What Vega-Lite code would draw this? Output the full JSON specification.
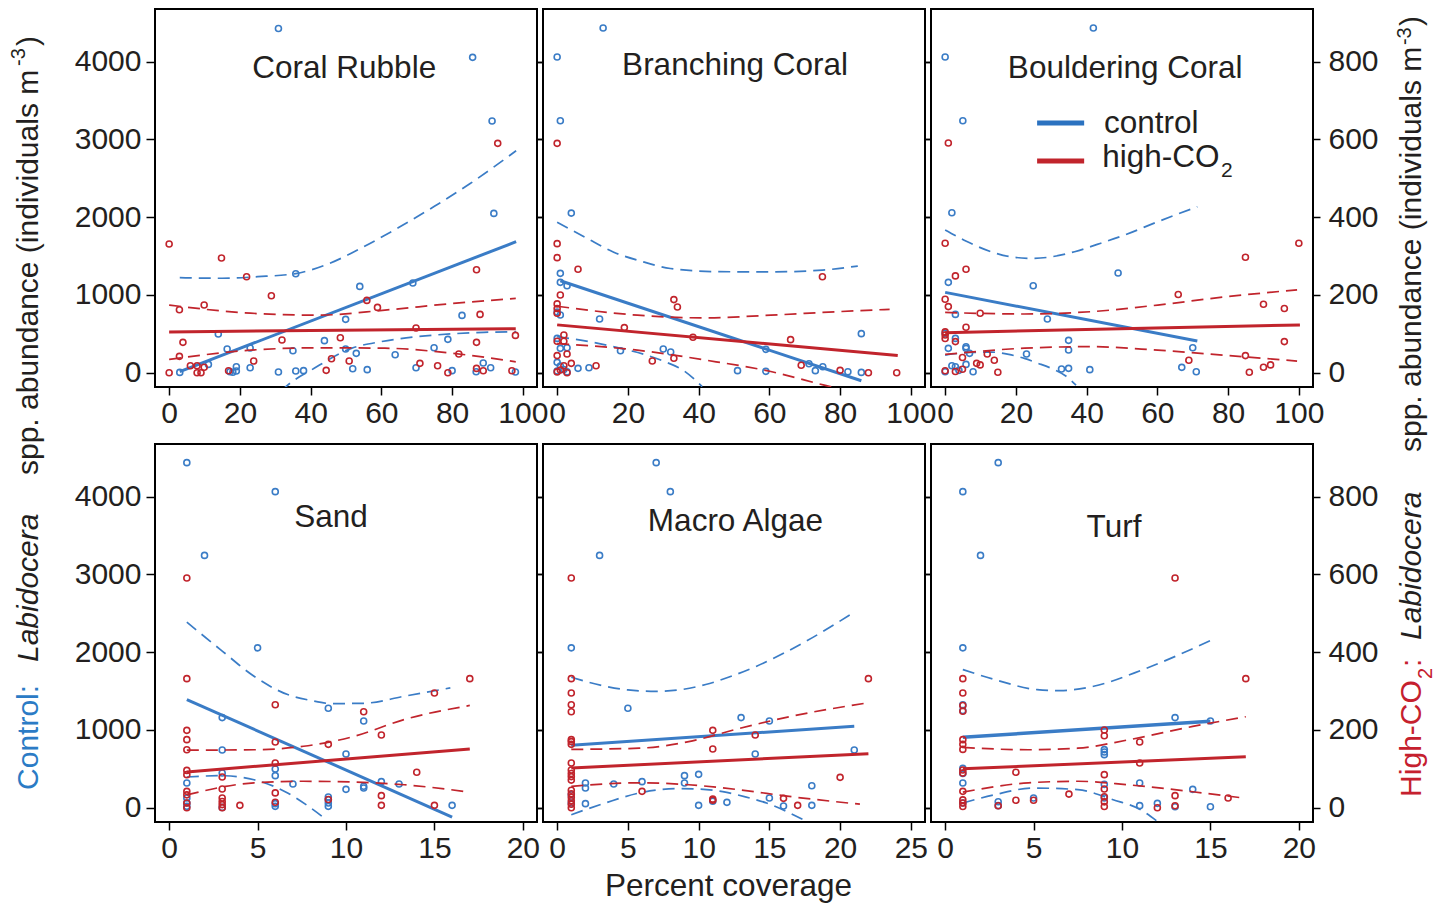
{
"$schema":"https://vega.github.io/schema/vega-lite/v6.json",
"padding":{"left":8,"top":8,"right":4,"bottom":2},
"background":"#ffffff",
"data":{"name":"d"},
"datasets":{"d":[
{"p":"CR","g":"c","k":"pt","x":30.9,"y":4428},{"p":"CR","g":"c","k":"pt","x":85.8,"y":4056},{"p":"CR","g":"c","k":"pt","x":91.3,"y":3237},{"p":"CR","g":"c","k":"pt","x":91.8,"y":2049},{"p":"CR","g":"c","k":"pt","x":35.8,"y":1273},{"p":"CR","g":"c","k":"pt","x":53.9,"y":1110},{"p":"CR","g":"c","k":"pt","x":68.9,"y":1153},{"p":"CR","g":"c","k":"pt","x":49.9,"y":686},{"p":"CR","g":"c","k":"pt","x":82.8,"y":737},{"p":"CR","g":"c","k":"pt","x":13.9,"y":497},{"p":"CR","g":"c","k":"pt","x":16.4,"y":304},{"p":"CR","g":"c","k":"pt","x":22.9,"y":317},{"p":"CR","g":"c","k":"pt","x":35,"y":283},{"p":"CR","g":"c","k":"pt","x":43.9,"y":412},{"p":"CR","g":"c","k":"pt","x":49.9,"y":304},{"p":"CR","g":"c","k":"pt","x":52.9,"y":249},{"p":"CR","g":"c","k":"pt","x":63.9,"y":231},{"p":"CR","g":"c","k":"pt","x":74.9,"y":321},{"p":"CR","g":"c","k":"pt","x":78.8,"y":429},{"p":"CR","g":"c","k":"pt","x":88.8,"y":124},{"p":"CR","g":"c","k":"pt","x":3,"y":4},{"p":"CR","g":"c","k":"pt","x":11.1,"y":107},{"p":"CR","g":"c","k":"pt","x":17.2,"y":13},{"p":"CR","g":"c","k":"pt","x":19,"y":77},{"p":"CR","g":"c","k":"pt","x":19,"y":21},{"p":"CR","g":"c","k":"pt","x":18,"y":5},{"p":"CR","g":"c","k":"pt","x":22.9,"y":64},{"p":"CR","g":"c","k":"pt","x":30.9,"y":9},{"p":"CR","g":"c","k":"pt","x":35.8,"y":21},{"p":"CR","g":"c","k":"pt","x":38,"y":26},{"p":"CR","g":"c","k":"pt","x":51.9,"y":51},{"p":"CR","g":"c","k":"pt","x":56,"y":39},{"p":"CR","g":"c","k":"pt","x":69.8,"y":64},{"p":"CR","g":"c","k":"pt","x":80,"y":26},{"p":"CR","g":"c","k":"pt","x":86.8,"y":13},{"p":"CR","g":"c","k":"pt","x":90.9,"y":64},{"p":"CR","g":"c","k":"pt","x":97.9,"y":9},
{"p":"CR","g":"h","k":"pt","x":0,"y":331},{"p":"CR","g":"h","k":"pt","x":14.8,"y":295},{"p":"CR","g":"h","k":"pt","x":21.9,"y":247},{"p":"CR","g":"h","k":"pt","x":28.9,"y":198},{"p":"CR","g":"h","k":"pt","x":2.9,"y":162},{"p":"CR","g":"h","k":"pt","x":9.9,"y":174},{"p":"CR","g":"h","k":"pt","x":86.9,"y":265},{"p":"CR","g":"h","k":"pt","x":92.9,"y":590},{"p":"CR","g":"h","k":"pt","x":55.9,"y":186},{"p":"CR","g":"h","k":"pt","x":58.9,"y":168},{"p":"CR","g":"h","k":"pt","x":87.9,"y":150},{"p":"CR","g":"h","k":"pt","x":69.8,"y":115},{"p":"CR","g":"h","k":"pt","x":97.9,"y":96},{"p":"CR","g":"h","k":"pt","x":3.9,"y":78},{"p":"CR","g":"h","k":"pt","x":31.9,"y":84},{"p":"CR","g":"h","k":"pt","x":48.4,"y":90},{"p":"CR","g":"h","k":"pt","x":86.9,"y":78},{"p":"CR","g":"h","k":"pt","x":2.9,"y":42},{"p":"CR","g":"h","k":"pt","x":81.9,"y":48},{"p":"CR","g":"h","k":"pt","x":45.9,"y":36},{"p":"CR","g":"h","k":"pt","x":50.9,"y":30},{"p":"CR","g":"h","k":"pt","x":23.9,"y":30},{"p":"CR","g":"h","k":"pt","x":6,"y":18},{"p":"CR","g":"h","k":"pt","x":7.9,"y":18},{"p":"CR","g":"h","k":"pt","x":9.9,"y":14},{"p":"CR","g":"h","k":"pt","x":7.9,"y":0},{"p":"CR","g":"h","k":"pt","x":9,"y":0},{"p":"CR","g":"h","k":"pt","x":0,"y":0},{"p":"CR","g":"h","k":"pt","x":16.8,"y":5},{"p":"CR","g":"h","k":"pt","x":44.4,"y":6},{"p":"CR","g":"h","k":"pt","x":70.9,"y":24},{"p":"CR","g":"h","k":"pt","x":75.9,"y":18},{"p":"CR","g":"h","k":"pt","x":78.8,"y":0},{"p":"CR","g":"h","k":"pt","x":86.9,"y":11},{"p":"CR","g":"h","k":"pt","x":88.8,"y":5},{"p":"CR","g":"h","k":"pt","x":96.9,"y":5},
{"p":"CR","g":"c","k":"fit","x":3,"y":13},{"p":"CR","g":"c","k":"fit","x":98.1,"y":1685},
{"p":"CR","g":"c","k":"up","x":3,"y":1222},{"p":"CR","g":"c","k":"up","x":15,"y":1215},{"p":"CR","g":"c","k":"up","x":25,"y":1235},{"p":"CR","g":"c","k":"up","x":35.8,"y":1275},{"p":"CR","g":"c","k":"up","x":45,"y":1400},{"p":"CR","g":"c","k":"up","x":55,"y":1620},{"p":"CR","g":"c","k":"up","x":65,"y":1870},{"p":"CR","g":"c","k":"up","x":75,"y":2140},{"p":"CR","g":"c","k":"up","x":85,"y":2430},{"p":"CR","g":"c","k":"up","x":98.1,"y":2855},
{"p":"CR","g":"c","k":"lo","x":28,"y":-420},{"p":"CR","g":"c","k":"lo","x":33,"y":-180},{"p":"CR","g":"c","k":"lo","x":41,"y":56},{"p":"CR","g":"c","k":"lo","x":51.5,"y":313},{"p":"CR","g":"c","k":"lo","x":60,"y":400},{"p":"CR","g":"c","k":"lo","x":70,"y":463},{"p":"CR","g":"c","k":"lo","x":80,"y":500},{"p":"CR","g":"c","k":"lo","x":89,"y":519},{"p":"CR","g":"c","k":"lo","x":98.1,"y":527},
{"p":"CR","g":"h","k":"fit","x":0,"y":105},{"p":"CR","g":"h","k":"fit","x":98,"y":113},
{"p":"CR","g":"h","k":"up","x":0,"y":174},{"p":"CR","g":"h","k":"up","x":23,"y":153},{"p":"CR","g":"h","k":"up","x":42,"y":148},{"p":"CR","g":"h","k":"up","x":61,"y":161},{"p":"CR","g":"h","k":"up","x":80,"y":178},{"p":"CR","g":"h","k":"up","x":98,"y":191},
{"p":"CR","g":"h","k":"lo","x":0,"y":34},{"p":"CR","g":"h","k":"lo","x":23,"y":58},{"p":"CR","g":"h","k":"lo","x":42,"y":64},{"p":"CR","g":"h","k":"lo","x":61,"y":63},{"p":"CR","g":"h","k":"lo","x":80,"y":50},{"p":"CR","g":"h","k":"lo","x":98,"y":28},
{"p":"BC","g":"c","k":"pt","x":13,"y":4433},{"p":"BC","g":"c","k":"pt","x":0,"y":4060},{"p":"BC","g":"c","k":"pt","x":0.9,"y":3241},{"p":"BC","g":"c","k":"pt","x":4,"y":2053},{"p":"BC","g":"c","k":"pt","x":0.9,"y":1278},{"p":"BC","g":"c","k":"pt","x":0.9,"y":1162},{"p":"BC","g":"c","k":"pt","x":2.8,"y":1119},{"p":"BC","g":"c","k":"pt","x":0.9,"y":742},{"p":"BC","g":"c","k":"pt","x":0,"y":780},{"p":"BC","g":"c","k":"pt","x":12,"y":690},{"p":"BC","g":"c","k":"pt","x":17.9,"y":283},{"p":"BC","g":"c","k":"pt","x":30,"y":304},{"p":"BC","g":"c","k":"pt","x":32.1,"y":266},{"p":"BC","g":"c","k":"pt","x":59,"y":300},{"p":"BC","g":"c","k":"pt","x":86,"y":502},{"p":"BC","g":"c","k":"pt","x":71.2,"y":116},{"p":"BC","g":"c","k":"pt","x":75.1,"y":77},{"p":"BC","g":"c","k":"pt","x":73,"y":26},{"p":"BC","g":"c","k":"pt","x":51,"y":26},{"p":"BC","g":"c","k":"pt","x":59,"y":17},{"p":"BC","g":"c","k":"pt","x":82.2,"y":13},{"p":"BC","g":"c","k":"pt","x":86,"y":4},{"p":"BC","g":"c","k":"pt","x":5.9,"y":56},{"p":"BC","g":"c","k":"pt","x":9,"y":64},{"p":"BC","g":"c","k":"pt","x":0,"y":441},{"p":"BC","g":"c","k":"pt","x":0.9,"y":313},{"p":"BC","g":"c","k":"pt","x":2.8,"y":321},{"p":"BC","g":"c","k":"pt","x":0,"y":133},{"p":"BC","g":"c","k":"pt","x":0.9,"y":86},{"p":"BC","g":"c","k":"pt","x":0,"y":21},{"p":"BC","g":"c","k":"pt","x":1.9,"y":40},{"p":"BC","g":"c","k":"pt","x":2.8,"y":10},
{"p":"BC","g":"h","k":"pt","x":0,"y":590},{"p":"BC","g":"h","k":"pt","x":0,"y":332},{"p":"BC","g":"h","k":"pt","x":0,"y":296},{"p":"BC","g":"h","k":"pt","x":5.9,"y":266},{"p":"BC","g":"h","k":"pt","x":75,"y":247},{"p":"BC","g":"h","k":"pt","x":0.9,"y":200},{"p":"BC","g":"h","k":"pt","x":0,"y":177},{"p":"BC","g":"h","k":"pt","x":0,"y":165},{"p":"BC","g":"h","k":"pt","x":0,"y":153},{"p":"BC","g":"h","k":"pt","x":33,"y":188},{"p":"BC","g":"h","k":"pt","x":34,"y":169},{"p":"BC","g":"h","k":"pt","x":19,"y":116},{"p":"BC","g":"h","k":"pt","x":38.4,"y":91},{"p":"BC","g":"h","k":"pt","x":66,"y":85},{"p":"BC","g":"h","k":"pt","x":1.9,"y":97},{"p":"BC","g":"h","k":"pt","x":0,"y":81},{"p":"BC","g":"h","k":"pt","x":1.9,"y":81},{"p":"BC","g":"h","k":"pt","x":2.8,"y":48},{"p":"BC","g":"h","k":"pt","x":0,"y":44},{"p":"BC","g":"h","k":"pt","x":26.9,"y":30},{"p":"BC","g":"h","k":"pt","x":33,"y":37},{"p":"BC","g":"h","k":"pt","x":11,"y":18},{"p":"BC","g":"h","k":"pt","x":4,"y":24},{"p":"BC","g":"h","k":"pt","x":69,"y":19},{"p":"BC","g":"h","k":"pt","x":80,"y":6},{"p":"BC","g":"h","k":"pt","x":88,"y":0},{"p":"BC","g":"h","k":"pt","x":96,"y":0},{"p":"BC","g":"h","k":"pt","x":0,"y":2},{"p":"BC","g":"h","k":"pt","x":0.9,"y":7},{"p":"BC","g":"h","k":"pt","x":2.8,"y":0},{"p":"BC","g":"h","k":"pt","x":1.9,"y":18},
{"p":"BC","g":"c","k":"fit","x":0.9,"y":1183},{"p":"BC","g":"c","k":"fit","x":86,"y":-103},
{"p":"BC","g":"c","k":"up","x":0,"y":1934},{"p":"BC","g":"c","k":"up","x":8,"y":1740},{"p":"BC","g":"c","k":"up","x":16,"y":1550},{"p":"BC","g":"c","k":"up","x":24,"y":1430},{"p":"BC","g":"c","k":"up","x":32,"y":1340},{"p":"BC","g":"c","k":"up","x":45,"y":1300},{"p":"BC","g":"c","k":"up","x":60,"y":1296},{"p":"BC","g":"c","k":"up","x":75,"y":1320},{"p":"BC","g":"c","k":"up","x":85,"y":1372},
{"p":"BC","g":"c","k":"lo","x":0,"y":463},{"p":"BC","g":"c","k":"lo","x":9,"y":400},{"p":"BC","g":"c","k":"lo","x":18,"y":313},{"p":"BC","g":"c","k":"lo","x":25,"y":230},{"p":"BC","g":"c","k":"lo","x":30,"y":150},{"p":"BC","g":"c","k":"lo","x":36,"y":20},{"p":"BC","g":"c","k":"lo","x":41,"y":-180},
{"p":"BC","g":"h","k":"fit","x":0,"y":123},{"p":"BC","g":"h","k":"fit","x":96.3,"y":44},
{"p":"BC","g":"h","k":"up","x":0,"y":171},{"p":"BC","g":"h","k":"up","x":22.7,"y":148},{"p":"BC","g":"h","k":"up","x":41.5,"y":141},{"p":"BC","g":"h","k":"up","x":60.4,"y":148},{"p":"BC","g":"h","k":"up","x":79.3,"y":157},{"p":"BC","g":"h","k":"up","x":94,"y":163},
{"p":"BC","g":"h","k":"lo","x":0,"y":75},{"p":"BC","g":"h","k":"lo","x":22.7,"y":58},{"p":"BC","g":"h","k":"lo","x":41.5,"y":33},{"p":"BC","g":"h","k":"lo","x":60.4,"y":3},{"p":"BC","g":"h","k":"lo","x":75.5,"y":-32},{"p":"BC","g":"h","k":"lo","x":80,"y":-42},
{"p":"BO","g":"c","k":"pt","x":41.9,"y":4433},{"p":"BO","g":"c","k":"pt","x":0,"y":4060},{"p":"BO","g":"c","k":"pt","x":5,"y":3241},{"p":"BO","g":"c","k":"pt","x":1.9,"y":2058},{"p":"BO","g":"c","k":"pt","x":48.9,"y":1282},{"p":"BO","g":"c","k":"pt","x":24.9,"y":1119},{"p":"BO","g":"c","k":"pt","x":0.9,"y":1162},{"p":"BO","g":"c","k":"pt","x":2.9,"y":750},{"p":"BO","g":"c","k":"pt","x":28.9,"y":690},{"p":"BO","g":"c","k":"pt","x":34.9,"y":416},{"p":"BO","g":"c","k":"pt","x":34.9,"y":292},{"p":"BO","g":"c","k":"pt","x":23,"y":240},{"p":"BO","g":"c","k":"pt","x":70,"y":321},{"p":"BO","g":"c","k":"pt","x":66.9,"y":69},{"p":"BO","g":"c","k":"pt","x":71,"y":13},{"p":"BO","g":"c","k":"pt","x":40.9,"y":39},{"p":"BO","g":"c","k":"pt","x":32.9,"y":47},{"p":"BO","g":"c","k":"pt","x":34.9,"y":56},{"p":"BO","g":"c","k":"pt","x":0,"y":506},{"p":"BO","g":"c","k":"pt","x":2.9,"y":441},{"p":"BO","g":"c","k":"pt","x":0.9,"y":313},{"p":"BO","g":"c","k":"pt","x":5.9,"y":334},{"p":"BO","g":"c","k":"pt","x":5.9,"y":313},{"p":"BO","g":"c","k":"pt","x":6.9,"y":249},{"p":"BO","g":"c","k":"pt","x":1.9,"y":90},{"p":"BO","g":"c","k":"pt","x":2.9,"y":77},{"p":"BO","g":"c","k":"pt","x":7.9,"y":13},{"p":"BO","g":"c","k":"pt","x":5.9,"y":107},{"p":"BO","g":"c","k":"pt","x":0,"y":13},{"p":"BO","g":"c","k":"pt","x":3.9,"y":30},
{"p":"BO","g":"h","k":"pt","x":0.9,"y":591},{"p":"BO","g":"h","k":"pt","x":0,"y":333},{"p":"BO","g":"h","k":"pt","x":84.9,"y":297},{"p":"BO","g":"h","k":"pt","x":100,"y":333},{"p":"BO","g":"h","k":"pt","x":5.9,"y":266},{"p":"BO","g":"h","k":"pt","x":2.9,"y":249},{"p":"BO","g":"h","k":"pt","x":0,"y":189},{"p":"BO","g":"h","k":"pt","x":0.9,"y":170},{"p":"BO","g":"h","k":"pt","x":65.9,"y":201},{"p":"BO","g":"h","k":"pt","x":90,"y":176},{"p":"BO","g":"h","k":"pt","x":95.9,"y":165},{"p":"BO","g":"h","k":"pt","x":9.9,"y":153},{"p":"BO","g":"h","k":"pt","x":5.9,"y":117},{"p":"BO","g":"h","k":"pt","x":0,"y":97},{"p":"BO","g":"h","k":"pt","x":0,"y":88},{"p":"BO","g":"h","k":"pt","x":2.9,"y":80},{"p":"BO","g":"h","k":"pt","x":95.9,"y":80},{"p":"BO","g":"h","k":"pt","x":11.9,"y":48},{"p":"BO","g":"h","k":"pt","x":84.9,"y":44},{"p":"BO","g":"h","k":"pt","x":13.9,"y":32},{"p":"BO","g":"h","k":"pt","x":4.9,"y":39},{"p":"BO","g":"h","k":"pt","x":68.9,"y":32},{"p":"BO","g":"h","k":"pt","x":8.9,"y":24},{"p":"BO","g":"h","k":"pt","x":9.9,"y":20},{"p":"BO","g":"h","k":"pt","x":90,"y":14},{"p":"BO","g":"h","k":"pt","x":92,"y":20},{"p":"BO","g":"h","k":"pt","x":14.9,"y":1},{"p":"BO","g":"h","k":"pt","x":86,"y":1},{"p":"BO","g":"h","k":"pt","x":0,"y":5},{"p":"BO","g":"h","k":"pt","x":2.9,"y":3},{"p":"BO","g":"h","k":"pt","x":4.9,"y":9},{"p":"BO","g":"h","k":"pt","x":0,"y":105},
{"p":"BO","g":"c","k":"fit","x":0,"y":1033},{"p":"BO","g":"c","k":"fit","x":71.3,"y":407},
{"p":"BO","g":"c","k":"up","x":0,"y":1835},{"p":"BO","g":"c","k":"up","x":6,"y":1690},{"p":"BO","g":"c","k":"up","x":13,"y":1556},{"p":"BO","g":"c","k":"up","x":18,"y":1495},{"p":"BO","g":"c","k":"up","x":24.3,"y":1470},{"p":"BO","g":"c","k":"up","x":30,"y":1490},{"p":"BO","g":"c","k":"up","x":36.6,"y":1556},{"p":"BO","g":"c","k":"up","x":43,"y":1650},{"p":"BO","g":"c","k":"up","x":50.7,"y":1770},{"p":"BO","g":"c","k":"up","x":60,"y":1940},{"p":"BO","g":"c","k":"up","x":71.3,"y":2135},
{"p":"BO","g":"c","k":"lo","x":0,"y":227},{"p":"BO","g":"c","k":"lo","x":7,"y":260},{"p":"BO","g":"c","k":"lo","x":13,"y":265},{"p":"BO","g":"c","k":"lo","x":18,"y":235},{"p":"BO","g":"c","k":"lo","x":22.4,"y":184},{"p":"BO","g":"c","k":"lo","x":26,"y":125},{"p":"BO","g":"c","k":"lo","x":30,"y":56},{"p":"BO","g":"c","k":"lo","x":34,"y":-40},{"p":"BO","g":"c","k":"lo","x":37,"y":-159},
{"p":"BO","g":"h","k":"fit","x":0,"y":103},{"p":"BO","g":"h","k":"fit","x":100.3,"y":123},
{"p":"BO","g":"h","k":"up","x":0,"y":155},{"p":"BO","g":"h","k":"up","x":22.4,"y":151},{"p":"BO","g":"h","k":"up","x":41.3,"y":157},{"p":"BO","g":"h","k":"up","x":60.1,"y":174},{"p":"BO","g":"h","k":"up","x":79,"y":195},{"p":"BO","g":"h","k":"up","x":99.5,"y":213},
{"p":"BO","g":"h","k":"lo","x":0,"y":47},{"p":"BO","g":"h","k":"lo","x":22.4,"y":63},{"p":"BO","g":"h","k":"lo","x":41.3,"y":67},{"p":"BO","g":"h","k":"lo","x":60.1,"y":58},{"p":"BO","g":"h","k":"lo","x":79,"y":45},{"p":"BO","g":"h","k":"lo","x":99.5,"y":30},
{"p":"SA","g":"c","k":"pt","x":1,"y":4438},{"p":"SA","g":"c","k":"pt","x":6,"y":4065},{"p":"SA","g":"c","k":"pt","x":2,"y":3245},{"p":"SA","g":"c","k":"pt","x":5,"y":2056},{"p":"SA","g":"c","k":"pt","x":9,"y":1279},{"p":"SA","g":"c","k":"pt","x":11,"y":1116},{"p":"SA","g":"c","k":"pt","x":3,"y":1159},{"p":"SA","g":"c","k":"pt","x":3,"y":743},{"p":"SA","g":"c","k":"pt","x":10,"y":691},{"p":"SA","g":"c","k":"pt","x":6,"y":498},{"p":"SA","g":"c","k":"pt","x":6,"y":412},{"p":"SA","g":"c","k":"pt","x":1,"y":318},{"p":"SA","g":"c","k":"pt","x":7,"y":305},{"p":"SA","g":"c","k":"pt","x":11,"y":275},{"p":"SA","g":"c","k":"pt","x":11,"y":253},{"p":"SA","g":"c","k":"pt","x":10,"y":236},{"p":"SA","g":"c","k":"pt","x":12,"y":335},{"p":"SA","g":"c","k":"pt","x":13,"y":305},{"p":"SA","g":"c","k":"pt","x":16,"y":30},{"p":"SA","g":"c","k":"pt","x":9,"y":137},{"p":"SA","g":"c","k":"pt","x":9,"y":103},{"p":"SA","g":"c","k":"pt","x":9,"y":60},{"p":"SA","g":"c","k":"pt","x":9,"y":17},{"p":"SA","g":"c","k":"pt","x":6,"y":52},{"p":"SA","g":"c","k":"pt","x":6,"y":17},{"p":"SA","g":"c","k":"pt","x":3,"y":4},{"p":"SA","g":"c","k":"pt","x":3,"y":446},{"p":"SA","g":"c","k":"pt","x":1,"y":124},{"p":"SA","g":"c","k":"pt","x":1,"y":60},{"p":"SA","g":"c","k":"pt","x":1,"y":17},
{"p":"SA","g":"h","k":"pt","x":1,"y":591},{"p":"SA","g":"h","k":"pt","x":1,"y":332},{"p":"SA","g":"h","k":"pt","x":17,"y":332},{"p":"SA","g":"h","k":"pt","x":15,"y":295},{"p":"SA","g":"h","k":"pt","x":6,"y":265},{"p":"SA","g":"h","k":"pt","x":11,"y":247},{"p":"SA","g":"h","k":"pt","x":1,"y":199},{"p":"SA","g":"h","k":"pt","x":1,"y":175},{"p":"SA","g":"h","k":"pt","x":1,"y":149},{"p":"SA","g":"h","k":"pt","x":12,"y":187},{"p":"SA","g":"h","k":"pt","x":6,"y":169},{"p":"SA","g":"h","k":"pt","x":9,"y":163},{"p":"SA","g":"h","k":"pt","x":6,"y":115},{"p":"SA","g":"h","k":"pt","x":1,"y":96},{"p":"SA","g":"h","k":"pt","x":1,"y":85},{"p":"SA","g":"h","k":"pt","x":14,"y":91},{"p":"SA","g":"h","k":"pt","x":3,"y":79},{"p":"SA","g":"h","k":"pt","x":3,"y":48},{"p":"SA","g":"h","k":"pt","x":6,"y":38},{"p":"SA","g":"h","k":"pt","x":1,"y":42},{"p":"SA","g":"h","k":"pt","x":1,"y":33},{"p":"SA","g":"h","k":"pt","x":12,"y":31},{"p":"SA","g":"h","k":"pt","x":12,"y":6},{"p":"SA","g":"h","k":"pt","x":3,"y":25},{"p":"SA","g":"h","k":"pt","x":3,"y":16},{"p":"SA","g":"h","k":"pt","x":3,"y":8},{"p":"SA","g":"h","k":"pt","x":3,"y":0},{"p":"SA","g":"h","k":"pt","x":4,"y":6},{"p":"SA","g":"h","k":"pt","x":9,"y":21},{"p":"SA","g":"h","k":"pt","x":15,"y":6},{"p":"SA","g":"h","k":"pt","x":1,"y":12},{"p":"SA","g":"h","k":"pt","x":1,"y":0},{"p":"SA","g":"h","k":"pt","x":6,"y":14},
{"p":"SA","g":"c","k":"fit","x":1,"y":1391},{"p":"SA","g":"c","k":"fit","x":16,"y":-120},
{"p":"SA","g":"c","k":"up","x":1,"y":2386},{"p":"SA","g":"c","k":"up","x":2.9,"y":2034},{"p":"SA","g":"c","k":"up","x":4.8,"y":1691},{"p":"SA","g":"c","k":"up","x":6.7,"y":1455},{"p":"SA","g":"c","k":"up","x":8,"y":1380},{"p":"SA","g":"c","k":"up","x":9.2,"y":1339},{"p":"SA","g":"c","k":"up","x":11,"y":1343},{"p":"SA","g":"c","k":"up","x":13.3,"y":1434},{"p":"SA","g":"c","k":"up","x":15.9,"y":1541},
{"p":"SA","g":"c","k":"lo","x":1,"y":395},{"p":"SA","g":"c","k":"lo","x":2.9,"y":412},{"p":"SA","g":"c","k":"lo","x":4.8,"y":360},{"p":"SA","g":"c","k":"lo","x":6.7,"y":189},{"p":"SA","g":"c","k":"lo","x":7.8,"y":30},{"p":"SA","g":"c","k":"lo","x":8.9,"y":-155},
{"p":"SA","g":"h","k":"fit","x":1,"y":92},{"p":"SA","g":"h","k":"fit","x":17,"y":151},
{"p":"SA","g":"h","k":"up","x":1,"y":148},{"p":"SA","g":"h","k":"up","x":4.8,"y":149},{"p":"SA","g":"h","k":"up","x":7.6,"y":158},{"p":"SA","g":"h","k":"up","x":10.5,"y":184},{"p":"SA","g":"h","k":"up","x":13.3,"y":227},{"p":"SA","g":"h","k":"up","x":17,"y":263},
{"p":"SA","g":"h","k":"lo","x":1,"y":33},{"p":"SA","g":"h","k":"lo","x":4.8,"y":64},{"p":"SA","g":"h","k":"lo","x":7.6,"y":68},{"p":"SA","g":"h","k":"lo","x":10.5,"y":66},{"p":"SA","g":"h","k":"lo","x":13.3,"y":59},{"p":"SA","g":"h","k":"lo","x":17,"y":40},
{"p":"MA","g":"c","k":"pt","x":7,"y":4438},{"p":"MA","g":"c","k":"pt","x":8,"y":4065},{"p":"MA","g":"c","k":"pt","x":3,"y":3245},{"p":"MA","g":"c","k":"pt","x":1,"y":2056},{"p":"MA","g":"c","k":"pt","x":5,"y":1279},{"p":"MA","g":"c","k":"pt","x":13,"y":1159},{"p":"MA","g":"c","k":"pt","x":15,"y":1116},{"p":"MA","g":"c","k":"pt","x":14,"y":691},{"p":"MA","g":"c","k":"pt","x":21,"y":743},{"p":"MA","g":"c","k":"pt","x":9,"y":412},{"p":"MA","g":"c","k":"pt","x":10,"y":429},{"p":"MA","g":"c","k":"pt","x":9,"y":318},{"p":"MA","g":"c","k":"pt","x":2,"y":318},{"p":"MA","g":"c","k":"pt","x":2,"y":253},{"p":"MA","g":"c","k":"pt","x":4,"y":305},{"p":"MA","g":"c","k":"pt","x":6,"y":335},{"p":"MA","g":"c","k":"pt","x":18,"y":283},{"p":"MA","g":"c","k":"pt","x":15,"y":124},{"p":"MA","g":"c","k":"pt","x":2,"y":52},{"p":"MA","g":"c","k":"pt","x":10,"y":30},{"p":"MA","g":"c","k":"pt","x":11,"y":82},{"p":"MA","g":"c","k":"pt","x":12,"y":69},{"p":"MA","g":"c","k":"pt","x":16,"y":21},{"p":"MA","g":"c","k":"pt","x":18,"y":30},{"p":"MA","g":"c","k":"pt","x":1,"y":167},{"p":"MA","g":"c","k":"pt","x":1,"y":60},
{"p":"MA","g":"h","k":"pt","x":1,"y":591},{"p":"MA","g":"h","k":"pt","x":1,"y":332},{"p":"MA","g":"h","k":"pt","x":22,"y":332},{"p":"MA","g":"h","k":"pt","x":1,"y":295},{"p":"MA","g":"h","k":"pt","x":1,"y":265},{"p":"MA","g":"h","k":"pt","x":1,"y":247},{"p":"MA","g":"h","k":"pt","x":11,"y":199},{"p":"MA","g":"h","k":"pt","x":14,"y":187},{"p":"MA","g":"h","k":"pt","x":11,"y":151},{"p":"MA","g":"h","k":"pt","x":1,"y":175},{"p":"MA","g":"h","k":"pt","x":1,"y":170},{"p":"MA","g":"h","k":"pt","x":1,"y":163},{"p":"MA","g":"h","k":"pt","x":1,"y":115},{"p":"MA","g":"h","k":"pt","x":1,"y":97},{"p":"MA","g":"h","k":"pt","x":1,"y":88},{"p":"MA","g":"h","k":"pt","x":1,"y":80},{"p":"MA","g":"h","k":"pt","x":1,"y":71},{"p":"MA","g":"h","k":"pt","x":20,"y":78},{"p":"MA","g":"h","k":"pt","x":6,"y":42},{"p":"MA","g":"h","k":"pt","x":11,"y":19},{"p":"MA","g":"h","k":"pt","x":16,"y":24},{"p":"MA","g":"h","k":"pt","x":17,"y":6},{"p":"MA","g":"h","k":"pt","x":1,"y":45},{"p":"MA","g":"h","k":"pt","x":1,"y":36},{"p":"MA","g":"h","k":"pt","x":1,"y":27},{"p":"MA","g":"h","k":"pt","x":1,"y":18},{"p":"MA","g":"h","k":"pt","x":1,"y":9},{"p":"MA","g":"h","k":"pt","x":1,"y":0},{"p":"MA","g":"h","k":"pt","x":11,"y":22},
{"p":"MA","g":"c","k":"fit","x":1,"y":803},{"p":"MA","g":"c","k":"fit","x":21,"y":1047},
{"p":"MA","g":"c","k":"up","x":1,"y":1678},{"p":"MA","g":"c","k":"up","x":3.4,"y":1562},{"p":"MA","g":"c","k":"up","x":5,"y":1515},{"p":"MA","g":"c","k":"up","x":7,"y":1497},{"p":"MA","g":"c","k":"up","x":8.8,"y":1520},{"p":"MA","g":"c","k":"up","x":10.5,"y":1584},{"p":"MA","g":"c","k":"up","x":12.3,"y":1690},{"p":"MA","g":"c","k":"up","x":14.1,"y":1820},{"p":"MA","g":"c","k":"up","x":17.6,"y":2142},{"p":"MA","g":"c","k":"up","x":21,"y":2515},
{"p":"MA","g":"c","k":"lo","x":1,"y":-90},{"p":"MA","g":"c","k":"lo","x":3.4,"y":60},{"p":"MA","g":"c","k":"lo","x":5.8,"y":189},{"p":"MA","g":"c","k":"lo","x":8.6,"y":245},{"p":"MA","g":"c","k":"lo","x":10,"y":240},{"p":"MA","g":"c","k":"lo","x":11.7,"y":206},{"p":"MA","g":"c","k":"lo","x":13.3,"y":140},{"p":"MA","g":"c","k":"lo","x":14.8,"y":60},{"p":"MA","g":"c","k":"lo","x":17.4,"y":-155},
{"p":"MA","g":"h","k":"fit","x":1,"y":102},{"p":"MA","g":"h","k":"fit","x":22,"y":139},
{"p":"MA","g":"h","k":"up","x":1,"y":150},{"p":"MA","g":"h","k":"up","x":5.8,"y":153},{"p":"MA","g":"h","k":"up","x":9.3,"y":170},{"p":"MA","g":"h","k":"up","x":12.9,"y":204},{"p":"MA","g":"h","k":"up","x":16.4,"y":234},{"p":"MA","g":"h","k":"up","x":22,"y":270},
{"p":"MA","g":"h","k":"lo","x":1,"y":55},{"p":"MA","g":"h","k":"lo","x":5.8,"y":64},{"p":"MA","g":"h","k":"lo","x":9.3,"y":59},{"p":"MA","g":"h","k":"lo","x":12.9,"y":46},{"p":"MA","g":"h","k":"lo","x":16.4,"y":29},{"p":"MA","g":"h","k":"lo","x":21.4,"y":9},
{"p":"TU","g":"c","k":"pt","x":3,"y":4438},{"p":"TU","g":"c","k":"pt","x":1,"y":4065},{"p":"TU","g":"c","k":"pt","x":2,"y":3245},{"p":"TU","g":"c","k":"pt","x":1,"y":2056},{"p":"TU","g":"c","k":"pt","x":1,"y":1322},{"p":"TU","g":"c","k":"pt","x":1,"y":1249},{"p":"TU","g":"c","k":"pt","x":13,"y":1159},{"p":"TU","g":"c","k":"pt","x":15,"y":1116},{"p":"TU","g":"c","k":"pt","x":9,"y":747},{"p":"TU","g":"c","k":"pt","x":9,"y":717},{"p":"TU","g":"c","k":"pt","x":9,"y":682},{"p":"TU","g":"c","k":"pt","x":1,"y":506},{"p":"TU","g":"c","k":"pt","x":1,"y":441},{"p":"TU","g":"c","k":"pt","x":1,"y":318},{"p":"TU","g":"c","k":"pt","x":11,"y":318},{"p":"TU","g":"c","k":"pt","x":14,"y":236},{"p":"TU","g":"c","k":"pt","x":9,"y":300},{"p":"TU","g":"c","k":"pt","x":9,"y":124},{"p":"TU","g":"c","k":"pt","x":5,"y":124},{"p":"TU","g":"c","k":"pt","x":3,"y":77},{"p":"TU","g":"c","k":"pt","x":3,"y":26},{"p":"TU","g":"c","k":"pt","x":11,"y":26},{"p":"TU","g":"c","k":"pt","x":12,"y":56},{"p":"TU","g":"c","k":"pt","x":13,"y":13},{"p":"TU","g":"c","k":"pt","x":15,"y":13},{"p":"TU","g":"c","k":"pt","x":1,"y":60},
{"p":"TU","g":"h","k":"pt","x":13,"y":591},{"p":"TU","g":"h","k":"pt","x":1,"y":332},{"p":"TU","g":"h","k":"pt","x":17,"y":332},{"p":"TU","g":"h","k":"pt","x":1,"y":295},{"p":"TU","g":"h","k":"pt","x":1,"y":263},{"p":"TU","g":"h","k":"pt","x":1,"y":248},{"p":"TU","g":"h","k":"pt","x":9,"y":200},{"p":"TU","g":"h","k":"pt","x":9,"y":185},{"p":"TU","g":"h","k":"pt","x":11,"y":169},{"p":"TU","g":"h","k":"pt","x":1,"y":175},{"p":"TU","g":"h","k":"pt","x":1,"y":163},{"p":"TU","g":"h","k":"pt","x":1,"y":150},{"p":"TU","g":"h","k":"pt","x":11,"y":115},{"p":"TU","g":"h","k":"pt","x":1,"y":97},{"p":"TU","g":"h","k":"pt","x":1,"y":89},{"p":"TU","g":"h","k":"pt","x":4,"y":91},{"p":"TU","g":"h","k":"pt","x":9,"y":85},{"p":"TU","g":"h","k":"pt","x":9,"y":48},{"p":"TU","g":"h","k":"pt","x":1,"y":42},{"p":"TU","g":"h","k":"pt","x":7,"y":35},{"p":"TU","g":"h","k":"pt","x":13,"y":31},{"p":"TU","g":"h","k":"pt","x":16,"y":25},{"p":"TU","g":"h","k":"pt","x":4,"y":19},{"p":"TU","g":"h","k":"pt","x":5,"y":19},{"p":"TU","g":"h","k":"pt","x":3,"y":5},{"p":"TU","g":"h","k":"pt","x":9,"y":28},{"p":"TU","g":"h","k":"pt","x":9,"y":15},{"p":"TU","g":"h","k":"pt","x":9,"y":3},{"p":"TU","g":"h","k":"pt","x":12,"y":0},{"p":"TU","g":"h","k":"pt","x":13,"y":5},{"p":"TU","g":"h","k":"pt","x":1,"y":20},{"p":"TU","g":"h","k":"pt","x":1,"y":12},{"p":"TU","g":"h","k":"pt","x":1,"y":3},
{"p":"TU","g":"c","k":"fit","x":1,"y":906},{"p":"TU","g":"c","k":"fit","x":15,"y":1112},
{"p":"TU","g":"c","k":"up","x":1,"y":1777},{"p":"TU","g":"c","k":"up","x":2.8,"y":1648},{"p":"TU","g":"c","k":"up","x":5.2,"y":1519},{"p":"TU","g":"c","k":"up","x":6.5,"y":1506},{"p":"TU","g":"c","k":"up","x":8.4,"y":1562},{"p":"TU","g":"c","k":"up","x":11.2,"y":1777},{"p":"TU","g":"c","k":"up","x":15,"y":2150},
{"p":"TU","g":"c","k":"lo","x":1,"y":60},{"p":"TU","g":"c","k":"lo","x":2.8,"y":167},{"p":"TU","g":"c","k":"lo","x":5,"y":253},{"p":"TU","g":"c","k":"lo","x":7.5,"y":232},{"p":"TU","g":"c","k":"lo","x":9.5,"y":103},{"p":"TU","g":"c","k":"lo","x":11,"y":-20},{"p":"TU","g":"c","k":"lo","x":12,"y":-176},
{"p":"TU","g":"h","k":"fit","x":1,"y":100},{"p":"TU","g":"h","k":"fit","x":17,"y":131},
{"p":"TU","g":"h","k":"up","x":1,"y":155},{"p":"TU","g":"h","k":"up","x":4.7,"y":149},{"p":"TU","g":"h","k":"up","x":7.5,"y":153},{"p":"TU","g":"h","k":"up","x":10.3,"y":174},{"p":"TU","g":"h","k":"up","x":14,"y":209},{"p":"TU","g":"h","k":"up","x":17,"y":234},
{"p":"TU","g":"h","k":"lo","x":1,"y":40},{"p":"TU","g":"h","k":"lo","x":4.7,"y":64},{"p":"TU","g":"h","k":"lo","x":7.5,"y":68},{"p":"TU","g":"h","k":"lo","x":10.3,"y":59},{"p":"TU","g":"h","k":"lo","x":14,"y":41},{"p":"TU","g":"h","k":"lo","x":17,"y":24}
]},
"columns":3,
"spacing":{"row":57,"column":6},
"bounds":"flush",
"concat":[
{"width":382,"height":378,
 "layer":[
  {"layer":[
    {"transform":[{"filter":"datum.p=='CR'&&datum.g=='c'&&datum.k=='pt'"}],"mark":{"type":"point","shape":"circle","filled":false,"size":36,"strokeWidth":1.6,"color":"#3a7cc6","opacity":1},
     "encoding":{"x":{"field":"x","type":"quantitative","title":null,"scale":{"domain":[-4,104],"nice":false,"zero":false},"axis":{"values":[0,20,40,60,80,100],"title":null,"labelPadding":3}},"y":{"field":"y","type":"quantitative","title":null,"scale":{"domain":[-184,4678],"nice":false,"zero":false},"axis":{"values":[0,1000,2000,3000,4000],"format":"d","title":null,"tickSize":9,"labelPadding":5}}}},
    {"transform":[{"filter":"datum.p=='CR'&&datum.g=='c'&&datum.k=='fit'"}],"mark":{"type":"line","color":"#3a7cc6","strokeWidth":3,"clip":true},
     "encoding":{"x":{"field":"x","type":"quantitative","title":null},"y":{"field":"y","type":"quantitative","title":null}}},
    {"transform":[{"filter":"datum.p=='CR'&&datum.g=='c'&&(datum.k=='up'||datum.k=='lo')"}],"mark":{"type":"line","color":"#3a7cc6","strokeWidth":1.7,"strokeDash":[12,7],"interpolate":"monotone","clip":true},
     "encoding":{"x":{"field":"x","type":"quantitative","title":null},"y":{"field":"y","type":"quantitative","title":null},"detail":{"field":"k"}}},
    {"data":{"values":[{"n":1}]},"mark":{"type":"text","text":"Coral Rubble","fontSize":31.5,"align":"center","baseline":"alphabetic"},"encoding":{"x":{"datum":49.5},"y":{"datum":3790}}}
  ]},
  {"layer":[
    {"transform":[{"filter":"datum.p=='CR'&&datum.g=='h'&&datum.k=='pt'"}],"mark":{"type":"point","shape":"circle","filled":false,"size":36,"strokeWidth":1.6,"color":"#c1242c","opacity":1},
     "encoding":{"x":{"field":"x","type":"quantitative","title":null},"y":{"field":"y","type":"quantitative","title":null,"scale":{"domain":[-36.8,935.6],"nice":false,"zero":false},"axis":{"orient":"right","values":[0,200,400,600,800],"title":null,"tickSize":6,"labels":false}}}},
    {"transform":[{"filter":"datum.p=='CR'&&datum.g=='h'&&datum.k=='fit'"}],"mark":{"type":"line","color":"#c1242c","strokeWidth":3,"clip":true},
     "encoding":{"x":{"field":"x","type":"quantitative","title":null},"y":{"field":"y","type":"quantitative","title":null}}},
    {"transform":[{"filter":"datum.p=='CR'&&datum.g=='h'&&(datum.k=='up'||datum.k=='lo')"}],"mark":{"type":"line","color":"#c1242c","strokeWidth":1.7,"strokeDash":[12,7],"interpolate":"monotone","clip":true},
     "encoding":{"x":{"field":"x","type":"quantitative","title":null},"y":{"field":"y","type":"quantitative","title":null},"detail":{"field":"k"}}}
  ]}
 ],
 "resolve":{"scale":{"y":"independent"},"axis":{"y":"independent"}}
},
{"width":382,"height":378,
 "layer":[
  {"layer":[
    {"transform":[{"filter":"datum.p=='BC'&&datum.g=='c'&&datum.k=='pt'"}],"mark":{"type":"point","shape":"circle","filled":false,"size":36,"strokeWidth":1.6,"color":"#3a7cc6","opacity":1},
     "encoding":{"x":{"field":"x","type":"quantitative","title":null,"scale":{"domain":[-4,104],"nice":false,"zero":false},"axis":{"values":[0,20,40,60,80,100],"title":null,"labelPadding":3}},"y":{"field":"y","type":"quantitative","title":null,"scale":{"domain":[-184,4678],"nice":false,"zero":false},"axis":{"values":[0,1000,2000,3000,4000],"title":null,"tickSize":6,"labels":false}}}},
    {"transform":[{"filter":"datum.p=='BC'&&datum.g=='c'&&datum.k=='fit'"}],"mark":{"type":"line","color":"#3a7cc6","strokeWidth":3,"clip":true},
     "encoding":{"x":{"field":"x","type":"quantitative","title":null},"y":{"field":"y","type":"quantitative","title":null}}},
    {"transform":[{"filter":"datum.p=='BC'&&datum.g=='c'&&(datum.k=='up'||datum.k=='lo')"}],"mark":{"type":"line","color":"#3a7cc6","strokeWidth":1.7,"strokeDash":[12,7],"interpolate":"monotone","clip":true},
     "encoding":{"x":{"field":"x","type":"quantitative","title":null},"y":{"field":"y","type":"quantitative","title":null},"detail":{"field":"k"}}},
    {"data":{"values":[{"n":1}]},"mark":{"type":"text","text":"Branching Coral","fontSize":31.5,"align":"center","baseline":"alphabetic"},"encoding":{"x":{"datum":50.3},"y":{"datum":3829}}}
  ]},
  {"layer":[
    {"transform":[{"filter":"datum.p=='BC'&&datum.g=='h'&&datum.k=='pt'"}],"mark":{"type":"point","shape":"circle","filled":false,"size":36,"strokeWidth":1.6,"color":"#c1242c","opacity":1},
     "encoding":{"x":{"field":"x","type":"quantitative","title":null},"y":{"field":"y","type":"quantitative","title":null,"scale":{"domain":[-36.8,935.6],"nice":false,"zero":false},"axis":{"orient":"right","values":[0,200,400,600,800],"title":null,"tickSize":6,"labels":false}}}},
    {"transform":[{"filter":"datum.p=='BC'&&datum.g=='h'&&datum.k=='fit'"}],"mark":{"type":"line","color":"#c1242c","strokeWidth":3,"clip":true},
     "encoding":{"x":{"field":"x","type":"quantitative","title":null},"y":{"field":"y","type":"quantitative","title":null}}},
    {"transform":[{"filter":"datum.p=='BC'&&datum.g=='h'&&(datum.k=='up'||datum.k=='lo')"}],"mark":{"type":"line","color":"#c1242c","strokeWidth":1.7,"strokeDash":[12,7],"interpolate":"monotone","clip":true},
     "encoding":{"x":{"field":"x","type":"quantitative","title":null},"y":{"field":"y","type":"quantitative","title":null},"detail":{"field":"k"}}}
  ]}
 ],
 "resolve":{"scale":{"y":"independent"},"axis":{"y":"independent"}}
},
{"width":382,"height":378,
 "layer":[
  {"layer":[
    {"transform":[{"filter":"datum.p=='BO'&&datum.g=='c'&&datum.k=='pt'"}],"mark":{"type":"point","shape":"circle","filled":false,"size":36,"strokeWidth":1.6,"color":"#3a7cc6","opacity":1},
     "encoding":{"x":{"field":"x","type":"quantitative","title":null,"scale":{"domain":[-4,104],"nice":false,"zero":false},"axis":{"values":[0,20,40,60,80,100],"title":null,"labelPadding":3}},"y":{"field":"y","type":"quantitative","title":null,"scale":{"domain":[-184,4678],"nice":false,"zero":false},"axis":{"values":[0,1000,2000,3000,4000],"title":null,"tickSize":6,"labels":false}}}},
    {"transform":[{"filter":"datum.p=='BO'&&datum.g=='c'&&datum.k=='fit'"}],"mark":{"type":"line","color":"#3a7cc6","strokeWidth":3,"clip":true},
     "encoding":{"x":{"field":"x","type":"quantitative","title":null},"y":{"field":"y","type":"quantitative","title":null}}},
    {"transform":[{"filter":"datum.p=='BO'&&datum.g=='c'&&(datum.k=='up'||datum.k=='lo')"}],"mark":{"type":"line","color":"#3a7cc6","strokeWidth":1.7,"strokeDash":[12,7],"interpolate":"monotone","clip":true},
     "encoding":{"x":{"field":"x","type":"quantitative","title":null},"y":{"field":"y","type":"quantitative","title":null},"detail":{"field":"k"}}},
    {"data":{"values":[{"n":1}]},"mark":{"type":"text","text":"Bouldering Coral","fontSize":31.5,"align":"center","baseline":"alphabetic"},"encoding":{"x":{"datum":50.9},"y":{"datum":3794}}},
    {"data":{"values":[{"n":1}]},"mark":{"type":"rule","color":"#2b72c0","strokeWidth":5},"encoding":{"x":{"datum":26},"x2":{"datum":39.3},"y":{"datum":3212}}},
    {"data":{"values":[{"n":1}]},"mark":{"type":"rule","color":"#c1242c","strokeWidth":5},"encoding":{"x":{"datum":26},"x2":{"datum":39.3},"y":{"datum":2723}}},
    {"data":{"values":[{"n":1}]},"mark":{"type":"text","text":"control","fontSize":31.5,"align":"left","baseline":"alphabetic"},"encoding":{"x":{"datum":44.9},"y":{"datum":3083}}},
    {"data":{"values":[{"n":1}]},"mark":{"type":"text","text":"high-CO","fontSize":31.5,"align":"left","baseline":"alphabetic"},"encoding":{"x":{"datum":44.4},"y":{"datum":2650}}},
    {"data":{"values":[{"n":1}]},"mark":{"type":"text","text":"2","fontSize":21,"align":"left","baseline":"alphabetic"},"encoding":{"x":{"datum":78},"y":{"datum":2521}}}
  ]},
  {"layer":[
    {"transform":[{"filter":"datum.p=='BO'&&datum.g=='h'&&datum.k=='pt'"}],"mark":{"type":"point","shape":"circle","filled":false,"size":36,"strokeWidth":1.6,"color":"#c1242c","opacity":1},
     "encoding":{"x":{"field":"x","type":"quantitative","title":null},"y":{"field":"y","type":"quantitative","title":null,"scale":{"domain":[-36.8,935.6],"nice":false,"zero":false},"axis":{"orient":"right","values":[0,200,400,600,800],"title":null,"tickSize":7,"labelPadding":8}}}},
    {"transform":[{"filter":"datum.p=='BO'&&datum.g=='h'&&datum.k=='fit'"}],"mark":{"type":"line","color":"#c1242c","strokeWidth":3,"clip":true},
     "encoding":{"x":{"field":"x","type":"quantitative","title":null},"y":{"field":"y","type":"quantitative","title":null}}},
    {"transform":[{"filter":"datum.p=='BO'&&datum.g=='h'&&(datum.k=='up'||datum.k=='lo')"}],"mark":{"type":"line","color":"#c1242c","strokeWidth":1.7,"strokeDash":[12,7],"interpolate":"monotone","clip":true},
     "encoding":{"x":{"field":"x","type":"quantitative","title":null},"y":{"field":"y","type":"quantitative","title":null},"detail":{"field":"k"}}}
  ]}
 ],
 "resolve":{"scale":{"y":"independent"},"axis":{"y":"independent"}}
},
{"width":382,"height":378,
 "layer":[
  {"layer":[
    {"transform":[{"filter":"datum.p=='SA'&&datum.g=='c'&&datum.k=='pt'"}],"mark":{"type":"point","shape":"circle","filled":false,"size":36,"strokeWidth":1.6,"color":"#3a7cc6","opacity":1},
     "encoding":{"x":{"field":"x","type":"quantitative","title":null,"scale":{"domain":[-0.8,20.8],"nice":false,"zero":false},"axis":{"values":[0,5,10,15,20],"title":null,"labelPadding":3}},"y":{"field":"y","type":"quantitative","title":null,"scale":{"domain":[-184,4678],"nice":false,"zero":false},"axis":{"values":[0,1000,2000,3000,4000],"format":"d","title":null,"tickSize":9,"labelPadding":5}}}},
    {"transform":[{"filter":"datum.p=='SA'&&datum.g=='c'&&datum.k=='fit'"}],"mark":{"type":"line","color":"#3a7cc6","strokeWidth":3,"clip":true},
     "encoding":{"x":{"field":"x","type":"quantitative","title":null},"y":{"field":"y","type":"quantitative","title":null}}},
    {"transform":[{"filter":"datum.p=='SA'&&datum.g=='c'&&(datum.k=='up'||datum.k=='lo')"}],"mark":{"type":"line","color":"#3a7cc6","strokeWidth":1.7,"strokeDash":[12,7],"interpolate":"monotone","clip":true},
     "encoding":{"x":{"field":"x","type":"quantitative","title":null},"y":{"field":"y","type":"quantitative","title":null},"detail":{"field":"k"}}},
    {"data":{"values":[{"n":1}]},"mark":{"type":"text","text":"Sand","fontSize":31.5,"align":"center","baseline":"alphabetic"},"encoding":{"x":{"datum":9.15},"y":{"datum":3614}}},
    {"data":{"values":[{"n":1}]},"mark":{"type":"text","text":"Control:","fontSize":30,"angle":270,"align":"left","baseline":"alphabetic","color":"#2b7bc5"},"encoding":{"x":{"datum":-7.42},"y":{"datum":228}}},
    {"data":{"values":[{"n":1}]},"mark":{"type":"text","text":"Labidocera","fontSize":30,"fontStyle":"italic","angle":270,"align":"left","baseline":"alphabetic"},"encoding":{"x":{"datum":-7.42},"y":{"datum":1874}}},
    {"data":{"values":[{"n":1}]},"mark":{"type":"text","text":"spp. abundance (individuals m","fontSize":30,"angle":270,"align":"left","baseline":"alphabetic"},"encoding":{"x":{"datum":-7.42},"y":{"datum":4279}}},
    {"data":{"values":[{"n":1}]},"mark":{"type":"text","text":"-3","fontSize":20,"angle":270,"align":"left","baseline":"alphabetic"},"encoding":{"x":{"datum":-8.15},"y":{"datum":9540}}},
    {"data":{"values":[{"n":1}]},"mark":{"type":"text","text":")","fontSize":30,"angle":270,"align":"left","baseline":"alphabetic"},"encoding":{"x":{"datum":-7.42},"y":{"datum":9797}}}
  ]},
  {"layer":[
    {"transform":[{"filter":"datum.p=='SA'&&datum.g=='h'&&datum.k=='pt'"}],"mark":{"type":"point","shape":"circle","filled":false,"size":36,"strokeWidth":1.6,"color":"#c1242c","opacity":1},
     "encoding":{"x":{"field":"x","type":"quantitative","title":null},"y":{"field":"y","type":"quantitative","title":null,"scale":{"domain":[-36.8,935.6],"nice":false,"zero":false},"axis":{"orient":"right","values":[0,200,400,600,800],"title":null,"tickSize":6,"labels":false}}}},
    {"transform":[{"filter":"datum.p=='SA'&&datum.g=='h'&&datum.k=='fit'"}],"mark":{"type":"line","color":"#c1242c","strokeWidth":3,"clip":true},
     "encoding":{"x":{"field":"x","type":"quantitative","title":null},"y":{"field":"y","type":"quantitative","title":null}}},
    {"transform":[{"filter":"datum.p=='SA'&&datum.g=='h'&&(datum.k=='up'||datum.k=='lo')"}],"mark":{"type":"line","color":"#c1242c","strokeWidth":1.7,"strokeDash":[12,7],"interpolate":"monotone","clip":true},
     "encoding":{"x":{"field":"x","type":"quantitative","title":null},"y":{"field":"y","type":"quantitative","title":null},"detail":{"field":"k"}}}
  ]}
 ],
 "resolve":{"scale":{"y":"independent"},"axis":{"y":"independent"}}
},
{"width":382,"height":378,
 "layer":[
  {"layer":[
    {"transform":[{"filter":"datum.p=='MA'&&datum.g=='c'&&datum.k=='pt'"}],"mark":{"type":"point","shape":"circle","filled":false,"size":36,"strokeWidth":1.6,"color":"#3a7cc6","opacity":1},
     "encoding":{"x":{"field":"x","type":"quantitative","title":"Percent coverage","scale":{"domain":[-1,26],"nice":false,"zero":false},"axis":{"values":[0,5,10,15,20,25],"title":"Percent coverage","titleX":185,"titlePadding":7,"labelPadding":3}},"y":{"field":"y","type":"quantitative","title":null,"scale":{"domain":[-184,4678],"nice":false,"zero":false},"axis":{"values":[0,1000,2000,3000,4000],"title":null,"tickSize":6,"labels":false}}}},
    {"transform":[{"filter":"datum.p=='MA'&&datum.g=='c'&&datum.k=='fit'"}],"mark":{"type":"line","color":"#3a7cc6","strokeWidth":3,"clip":true},
     "encoding":{"x":{"field":"x","type":"quantitative","title":"Percent coverage"},"y":{"field":"y","type":"quantitative","title":null}}},
    {"transform":[{"filter":"datum.p=='MA'&&datum.g=='c'&&(datum.k=='up'||datum.k=='lo')"}],"mark":{"type":"line","color":"#3a7cc6","strokeWidth":1.7,"strokeDash":[12,7],"interpolate":"monotone","clip":true},
     "encoding":{"x":{"field":"x","type":"quantitative","title":"Percent coverage"},"y":{"field":"y","type":"quantitative","title":null},"detail":{"field":"k"}}},
    {"data":{"values":[{"n":1}]},"mark":{"type":"text","text":"Macro Algae","fontSize":31.5,"align":"center","baseline":"alphabetic"},"encoding":{"x":{"datum":12.6,"title":"Percent coverage"},"y":{"datum":3563}}}
  ]},
  {"layer":[
    {"transform":[{"filter":"datum.p=='MA'&&datum.g=='h'&&datum.k=='pt'"}],"mark":{"type":"point","shape":"circle","filled":false,"size":36,"strokeWidth":1.6,"color":"#c1242c","opacity":1},
     "encoding":{"x":{"field":"x","type":"quantitative","title":"Percent coverage"},"y":{"field":"y","type":"quantitative","title":null,"scale":{"domain":[-36.8,935.6],"nice":false,"zero":false},"axis":{"orient":"right","values":[0,200,400,600,800],"title":null,"tickSize":6,"labels":false}}}},
    {"transform":[{"filter":"datum.p=='MA'&&datum.g=='h'&&datum.k=='fit'"}],"mark":{"type":"line","color":"#c1242c","strokeWidth":3,"clip":true},
     "encoding":{"x":{"field":"x","type":"quantitative","title":"Percent coverage"},"y":{"field":"y","type":"quantitative","title":null}}},
    {"transform":[{"filter":"datum.p=='MA'&&datum.g=='h'&&(datum.k=='up'||datum.k=='lo')"}],"mark":{"type":"line","color":"#c1242c","strokeWidth":1.7,"strokeDash":[12,7],"interpolate":"monotone","clip":true},
     "encoding":{"x":{"field":"x","type":"quantitative","title":"Percent coverage"},"y":{"field":"y","type":"quantitative","title":null},"detail":{"field":"k"}}}
  ]}
 ],
 "resolve":{"scale":{"y":"independent"},"axis":{"y":"independent"}}
},
{"width":382,"height":378,
 "layer":[
  {"layer":[
    {"transform":[{"filter":"datum.p=='TU'&&datum.g=='c'&&datum.k=='pt'"}],"mark":{"type":"point","shape":"circle","filled":false,"size":36,"strokeWidth":1.6,"color":"#3a7cc6","opacity":1},
     "encoding":{"x":{"field":"x","type":"quantitative","title":null,"scale":{"domain":[-0.8,20.8],"nice":false,"zero":false},"axis":{"values":[0,5,10,15,20],"title":null,"labelPadding":3}},"y":{"field":"y","type":"quantitative","title":null,"scale":{"domain":[-184,4678],"nice":false,"zero":false},"axis":{"values":[0,1000,2000,3000,4000],"title":null,"tickSize":6,"labels":false}}}},
    {"transform":[{"filter":"datum.p=='TU'&&datum.g=='c'&&datum.k=='fit'"}],"mark":{"type":"line","color":"#3a7cc6","strokeWidth":3.6,"clip":true},
     "encoding":{"x":{"field":"x","type":"quantitative","title":null},"y":{"field":"y","type":"quantitative","title":null}}},
    {"transform":[{"filter":"datum.p=='TU'&&datum.g=='c'&&(datum.k=='up'||datum.k=='lo')"}],"mark":{"type":"line","color":"#3a7cc6","strokeWidth":1.7,"strokeDash":[12,7],"interpolate":"monotone","clip":true},
     "encoding":{"x":{"field":"x","type":"quantitative","title":null},"y":{"field":"y","type":"quantitative","title":null},"detail":{"field":"k"}}},
    {"data":{"values":[{"n":1}]},"mark":{"type":"text","text":"Turf","fontSize":31.5,"align":"center","baseline":"alphabetic"},"encoding":{"x":{"datum":9.55},"y":{"datum":3486}}},
    {"data":{"values":[{"n":1}]},"mark":{"type":"text","text":"High-CO","fontSize":30,"angle":270,"align":"left","baseline":"alphabetic","color":"#c5202e"},"encoding":{"x":{"datum":26.9},"y":{"datum":139}}},
    {"data":{"values":[{"n":1}]},"mark":{"type":"text","text":"2","fontSize":20,"angle":270,"align":"left","baseline":"alphabetic","color":"#c5202e"},"encoding":{"x":{"datum":27.55},"y":{"datum":1656}}},
    {"data":{"values":[{"n":1}]},"mark":{"type":"text","text":":","fontSize":30,"angle":270,"align":"left","baseline":"alphabetic","color":"#c5202e"},"encoding":{"x":{"datum":26.9},"y":{"datum":1811}}},
    {"data":{"values":[{"n":1}]},"mark":{"type":"text","text":"Labidocera","fontSize":30,"fontStyle":"italic","angle":270,"align":"left","baseline":"alphabetic"},"encoding":{"x":{"datum":26.9},"y":{"datum":2157}}},
    {"data":{"values":[{"n":1}]},"mark":{"type":"text","text":"spp. abundance (individuals m","fontSize":30,"angle":270,"align":"left","baseline":"alphabetic"},"encoding":{"x":{"datum":26.9},"y":{"datum":4575}}},
    {"data":{"values":[{"n":1}]},"mark":{"type":"text","text":"-3","fontSize":20,"angle":270,"align":"left","baseline":"alphabetic"},"encoding":{"x":{"datum":26.33},"y":{"datum":9809}}},
    {"data":{"values":[{"n":1}]},"mark":{"type":"text","text":")","fontSize":30,"angle":270,"align":"left","baseline":"alphabetic"},"encoding":{"x":{"datum":26.9},"y":{"datum":10054}}}
  ]},
  {"layer":[
    {"transform":[{"filter":"datum.p=='TU'&&datum.g=='h'&&datum.k=='pt'"}],"mark":{"type":"point","shape":"circle","filled":false,"size":36,"strokeWidth":1.6,"color":"#c1242c","opacity":1},
     "encoding":{"x":{"field":"x","type":"quantitative","title":null},"y":{"field":"y","type":"quantitative","title":null,"scale":{"domain":[-36.8,935.6],"nice":false,"zero":false},"axis":{"orient":"right","values":[0,200,400,600,800],"title":null,"tickSize":7,"labelPadding":8}}}},
    {"transform":[{"filter":"datum.p=='TU'&&datum.g=='h'&&datum.k=='fit'"}],"mark":{"type":"line","color":"#c1242c","strokeWidth":3,"clip":true},
     "encoding":{"x":{"field":"x","type":"quantitative","title":null},"y":{"field":"y","type":"quantitative","title":null}}},
    {"transform":[{"filter":"datum.p=='TU'&&datum.g=='h'&&(datum.k=='up'||datum.k=='lo')"}],"mark":{"type":"line","color":"#c1242c","strokeWidth":1.7,"strokeDash":[12,7],"interpolate":"monotone","clip":true},
     "encoding":{"x":{"field":"x","type":"quantitative","title":null},"y":{"field":"y","type":"quantitative","title":null},"detail":{"field":"k"}}}
  ]}
 ],
 "resolve":{"scale":{"y":"independent"},"axis":{"y":"independent"}}
}
],
"config":{
 "view":{"stroke":"#000000","strokeWidth":2},
 "axis":{"domain":false,"grid":false,"tickColor":"#000000","tickWidth":1.5,"tickSize":8,"labelFont":"Liberation Sans","labelFontSize":30,"labelColor":"#231f20","labelFlush":false,"labelOverlap":false,"labelBound":false,"titleFont":"Liberation Sans","titleFontSize":31.5,"titleFontWeight":"normal","titleColor":"#231f20"},
 "text":{"font":"Liberation Sans","color":"#231f20"}
}
}
